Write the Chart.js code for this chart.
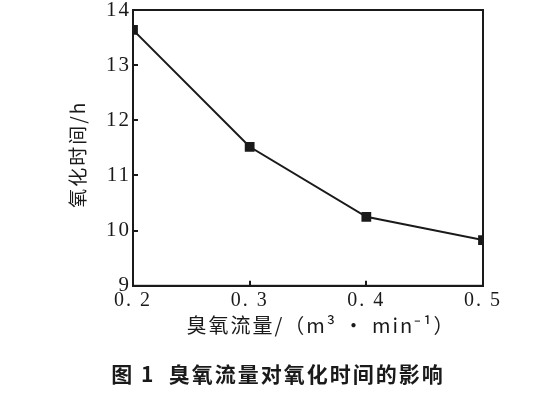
<!DOCTYPE html>
<html>
<head>
<meta charset="utf-8">
<script src="https://cdn.jsdelivr.net/npm/chart.js@4.4.0/dist/chart.umd.min.js"></script>
<style>
  html, body { margin: 0; padding: 0; background: #fff; }
  #wrap { width: 556px; height: 393px; }
</style>
</head>
<body>
<div id="wrap"><canvas id="ozoneChart" width="556" height="393"></canvas></div>
<script>
// 臭氧流量 (m3/min) vs 氧化时间 (h)
const flowRates = [0.2, 0.3, 0.4, 0.5];
const oxidationHours = [13.64, 11.52, 10.25, 9.83];
const xTicks = [0.2, 0.3, 0.4, 0.5];
const yTicks = [9, 10, 11, 12, 13, 14];

const ink = '#1a1a1a';
const serif = '"Liberation Serif", "DejaVu Serif", serif';
const cjk = '"Noto Sans CJK SC", sans-serif';

// box round the plot area + letter spacing like the printed figure
const framePlugin = {
    id: 'frame',
    beforeDraw(chart) {
        chart.ctx.letterSpacing = '2px';
    },
    afterDatasetsDraw(chart) {
        const {ctx, chartArea: a} = chart;
        ctx.save();
        ctx.strokeStyle = ink;
        ctx.lineWidth = 2;
        ctx.strokeRect(a.left, a.top, a.right - a.left, a.bottom - a.top);
        ctx.restore();
    }
};

const ctx = document.getElementById('ozoneChart').getContext('2d');
new Chart(ctx, {
    type: 'line',
    data: {
        datasets: [{
                data: flowRates.map((x, i) => ({x: x, y: oxidationHours[i]})),
                borderColor: ink,
                borderWidth: 2,
                backgroundColor: ink,
                pointStyle: 'rect',
                pointRadius: 5.5,
                pointHoverRadius: 5.5,
                tension: 0
            }]
    },
    options: {
        responsive: false,
        animation: false,
        layout: {
            padding: {top: 10, left: 0, right: 0, bottom: 0}
        },
        plugins: {
            legend: {display: false},
            tooltip: {enabled: false},
            title: {
                display: true,
                position: 'bottom',
                text: '图 1  臭氧流量对氧化时间的影响',
                color: ink,
                font: {family: cjk, size: 21, weight: 'bold'},
                padding: {top: 0, bottom: 6}
            }
        },
        scales: {
            x: {
                type: 'linear',
                min: 0.2,
                max: 0.5,
                afterBuildTicks: s => { s.ticks = xTicks.map(v => ({value: v})); },
                afterFit: s => { s.height = 76; s.paddingLeft = 0; s.paddingRight = 0; },
                ticks: {
                    color: ink,
                    font: {family: serif, size: 20},
                    padding: 8,
                    callback: v => v.toFixed(1).replace('.', '. ')
                },
                grid: {drawOnChartArea: false, tickLength: -5, color: ink, lineWidth: 2},
                border: {color: ink, width: 2},
                title: {
                    display: true,
                    text: '    臭氧流量/（m³ • min⁻¹）',
                    color: ink,
                    font: {family: cjk, size: 20},
                    padding: {top: 0, bottom: 24}
                }
            },
            y: {
                min: 9,
                max: 14,
                afterBuildTicks: s => { s.ticks = yTicks.map(v => ({value: v})); },
                afterFit: s => { s.width = 133; s.paddingTop = 0; s.paddingBottom = 0; },
                ticks: {
                    color: ink,
                    font: {family: serif, size: 21},
                    padding: 7
                },
                grid: {drawOnChartArea: false, tickLength: -5, color: ink, lineWidth: 2},
                border: {color: ink, width: 2},
                title: {
                    display: true,
                    text: '氧化时间/h  ',
                    color: ink,
                    font: {family: cjk, size: 19},
                    padding: {top: 66, bottom: 0}
                }
            },
            // empty right-hand strip so the plot area ends where the figure's does
            yRight: {
                position: 'right',
                display: true,
                afterFit: s => { s.width = 73; s.paddingTop = 0; s.paddingBottom = 0; },
                ticks: {display: false},
                grid: {display: false},
                border: {display: false}
            }
        }
    },
    plugins: [framePlugin]
});
</script>
</body>
</html>
